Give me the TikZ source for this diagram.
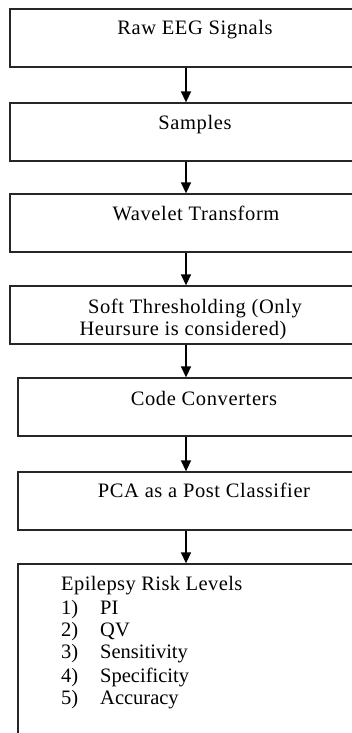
\documentclass[tikz,border=0pt]{standalone}
\usepackage{fontspec}
\setmainfont{Liberation Serif}
\usetikzlibrary{arrows.meta}
\begin{document}
\begin{tikzpicture}[x=1pt,y=-1pt,
  stage/.style={draw=black!85, line width=1.3pt, rectangle, inner sep=0pt},
  label/.style={inner sep=0pt, anchor=base, font=\fontsize{20.5}{23}\selectfont\addfontfeature{LetterSpace=3}},
  llabel/.style={inner sep=0pt, anchor=base west, font=\fontsize{20.5}{23}\selectfont},
  flow/.style={line width=1.4pt, -{Triangle[length=11pt,width=10pt]}}]
\useasboundingbox (0,0) rectangle (352,733);
\clip (0,0) rectangle (352,733);
\fill[white] (0,0) rectangle (352,733);
% upper stages
\node[stage, minimum width=370pt, minimum height=58pt] (b1) at (195,38) {};
\node[stage, minimum width=370pt, minimum height=58pt] (b2) at (195,132) {};
\node[stage, minimum width=370pt, minimum height=58pt] (b3) at (195,223) {};
\node[stage, minimum width=370pt, minimum height=58pt] (b4) at (195,315) {};
% lower stages
\node[stage, minimum width=372pt, minimum height=58pt] (b5) at (204,407) {};
\node[stage, minimum width=372pt, minimum height=58pt] (b6) at (204,501) {};
\node[stage, minimum width=372pt, minimum height=200pt] (b7) at (204,664) {};
% texts
\node[label] (t1) at (195,35) {Raw EEG Signals};
\node[label] (t2) at (195,129) {Samples};
\node[label] (t3) at (196,220) {Wavelet Transform};
\node[label] (t4a) at (195,313) {Soft Thresholding (Only};
\node[label] (t4b) at (183,335) {Heursure is considered)};
\node[label] (t5) at (204,405) {Code Converters};
\node[label] (t6) at (204,497) {PCA as a Post Classifier};
\node[llabel, font=\fontsize{20.5}{23}\selectfont\addfontfeature{LetterSpace=2}] (t7) at (61,590) {Epilepsy Risk Levels};
\node[llabel] (n1) at (61,614) {1)};
\node[llabel] (n2) at (61,636) {2)};
\node[llabel] (n3) at (61,658) {3)};
\node[llabel] (n4) at (61,682) {4)};
\node[llabel] (n5) at (61,704) {5)};
\node[llabel] (i1) at (100,614) {PI};
\node[llabel] (i2) at (100,636) {QV};
\node[llabel] (i3) at (100,658) {Sensitivity};
\node[llabel] (i4) at (100,682) {Specificity};
\node[llabel] (i5) at (100,704) {Accuracy};
% connectors along one vertical axis
\coordinate (ax) at (186,0);
\draw[flow] (b1.south -| ax) -- (b2.north -| ax);
\draw[flow] (b2.south -| ax) -- (b3.north -| ax);
\draw[flow] (b3.south -| ax) -- (b4.north -| ax);
\draw[flow] (b4.south -| ax) -- (b5.north -| ax);
\draw[flow] (b5.south -| ax) -- (b6.north -| ax);
\draw[flow] (b6.south -| ax) -- (b7.north -| ax);
\end{tikzpicture}
\end{document}
